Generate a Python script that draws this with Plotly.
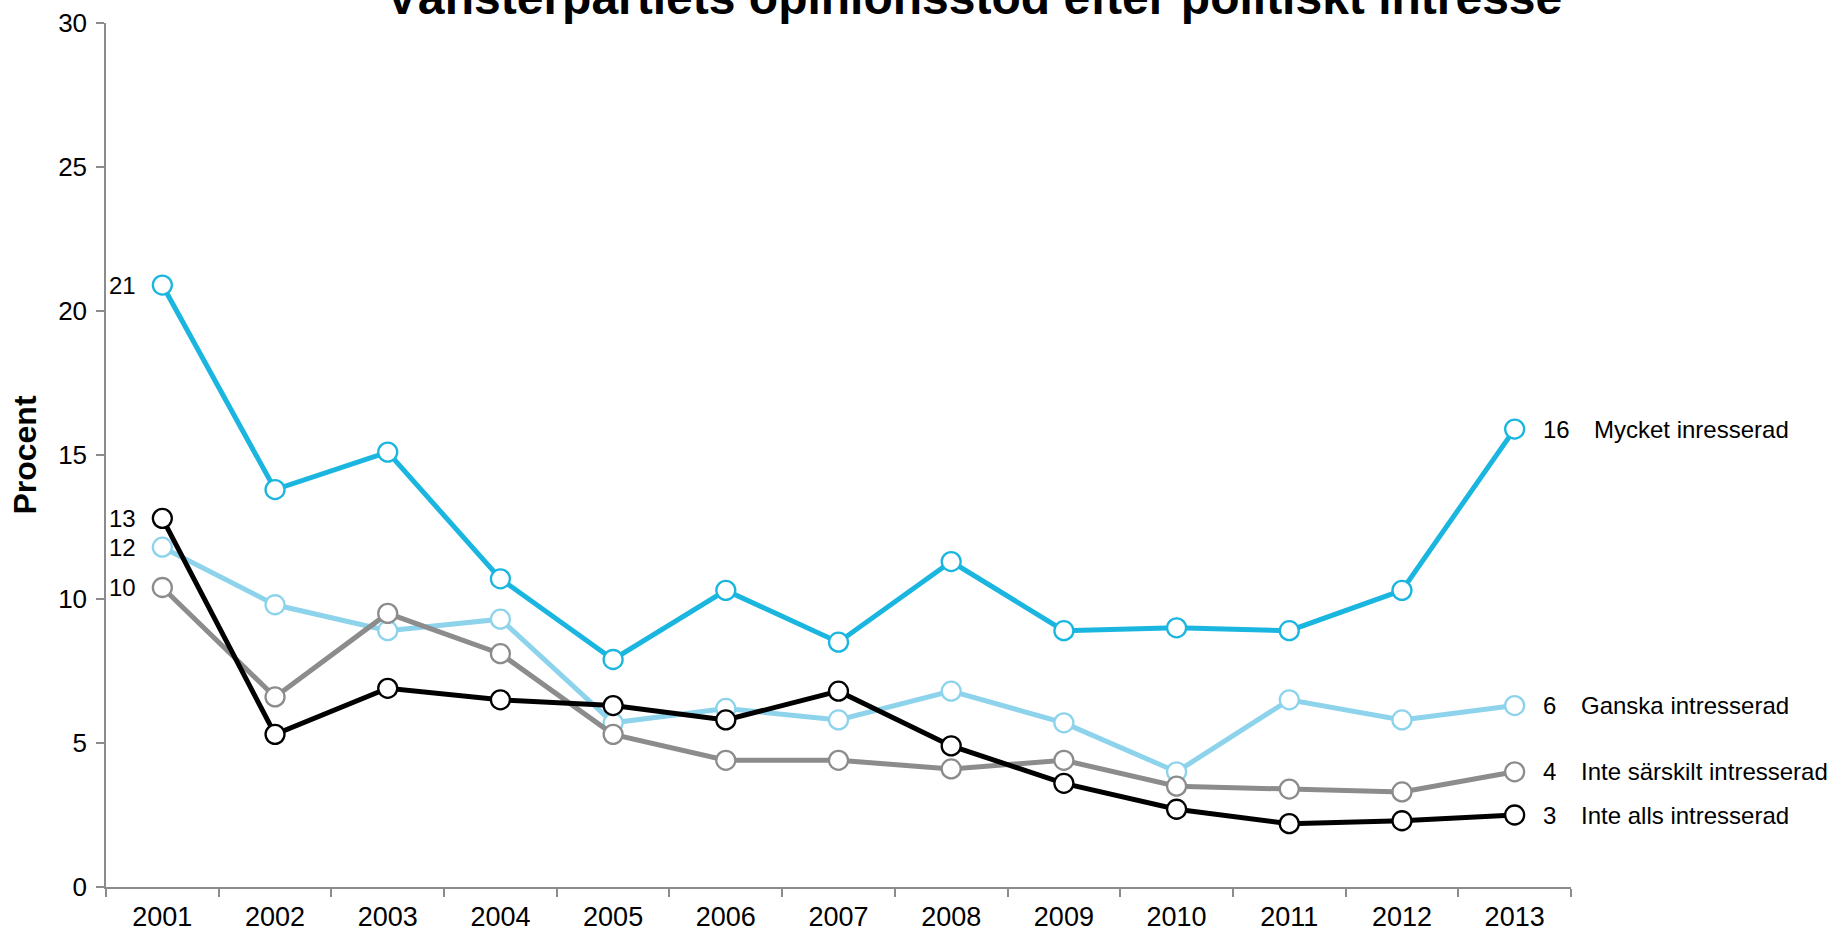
import plotly.graph_objects as go

years = ["2001", "2002", "2003", "2004", "2005", "2006", "2007",
         "2008", "2009", "2010", "2011", "2012", "2013"]

mycket = [20.9, 13.8, 15.1, 10.7, 7.9, 10.3, 8.5, 11.3, 8.9, 9.0, 8.9, 10.3, 15.9]
ganska = [11.8, 9.8, 8.9, 9.3, 5.7, 6.2, 5.8, 6.8, 5.7, 4.0, 6.5, 5.8, 6.3]
inte_sarskilt = [10.4, 6.6, 9.5, 8.1, 5.3, 4.4, 4.4, 4.1, 4.4, 3.5, 3.4, 3.3, 4.0]
inte_alls = [12.8, 5.3, 6.9, 6.5, 6.3, 5.8, 6.8, 4.9, 3.6, 2.7, 2.2, 2.3, 2.5]

series_names = ["Mycket inresserad", "Ganska intresserad",
                "Inte särskilt intresserad", "Inte alls intresserad"]
series_values = [mycket, ganska, inte_sarskilt, inte_alls]
series_colors = ["#1ab6e0", "#8dd3ec", "#8c8c8c", "#000000"]
first_labels = ["21", "12", "10", "13"]
last_labels = ["16", "6", "4", "3"]
name_shift = [77, 64, 64, 64]

title = "Vänsterpartiets opinionsstöd efter politiskt intresse"
y_title = "Procent"
y_ticks = [0, 5, 10, 15, 20, 25, 30]

FONT = "Liberation Sans, Arial, sans-serif"

fig = go.Figure()
for name, vals, col in zip(series_names, series_values, series_colors):
    fig.add_trace(go.Scatter(
        x=years, y=vals, mode="lines+markers", name=name,
        line=dict(color=col, width=5),
        marker=dict(symbol="circle", size=19, color="white",
                    line=dict(color=col, width=2.3)),
        showlegend=False, cliponaxis=False,
    ))

first_idx = 0
last_idx = len(years) - 1
annotations = []
for vals, lab in zip(series_values, first_labels):
    annotations.append(dict(x=first_idx, y=vals[0], xref="x", yref="y",
                            text=lab, showarrow=False, xanchor="right",
                            yanchor="middle", xshift=-24,
                            font=dict(family=FONT, size=24, color="black")))
for vals, lab, name, ns in zip(series_values, last_labels, series_names, name_shift):
    annotations.append(dict(x=last_idx, y=vals[-1], xref="x", yref="y",
                            text=lab, showarrow=False, xanchor="left",
                            yanchor="middle", xshift=26,
                            font=dict(family=FONT, size=24, color="black")))
    annotations.append(dict(x=last_idx, y=vals[-1], xref="x", yref="y",
                            text=name, showarrow=False, xanchor="left",
                            yanchor="middle", xshift=ns,
                            font=dict(family=FONT, size=24, color="black")))

annotations.append(dict(x=0.5925, y=1.0, xref="paper", yref="paper",
                        text="<b>" + title + "</b>", showarrow=False,
                        xanchor="center", yanchor="bottom", yshift=-3,
                        font=dict(family=FONT, size=48, color="black")))

fig.update_layout(
    width=1831, height=932,
    margin=dict(l=106, r=260, t=23, b=45, pad=0),
    paper_bgcolor="white", plot_bgcolor="white",
    font=dict(family=FONT, size=24, color="black"),
    annotations=annotations,
)
fig.update_xaxes(
    type="category", range=[-0.5, 12.5], tickson="boundaries",
    ticks="outside", ticklen=8, tickcolor="#8c8c8c", tickwidth=1.5,
    showline=True, linecolor="#8c8c8c", linewidth=1.5,
    showgrid=False, zeroline=False, ticklabelstandoff=5,
    automargin=False,
    tickfont=dict(family=FONT, size=27, color="black"),
)
fig.update_yaxes(
    range=[0, 30], tickvals=y_ticks, ticks="outside", ticklen=8,
    tickcolor="#8c8c8c", tickwidth=1.5,
    showline=True, linecolor="#8c8c8c", linewidth=1.5,
    showgrid=False, zeroline=False, ticklabelstandoff=4,
    automargin=False,
    tickfont=dict(family=FONT, size=26, color="black"),
    title=dict(text="<b>" + y_title + "</b>", standoff=12,
               font=dict(family=FONT, size=32, color="black")),
)

fig.write_html("out.html",
               config={"displayModeBar": False},
               post_script="document.body.style.margin='0';"
                           "document.body.style.padding='0';"
                           "document.body.style.overflow='hidden';")
